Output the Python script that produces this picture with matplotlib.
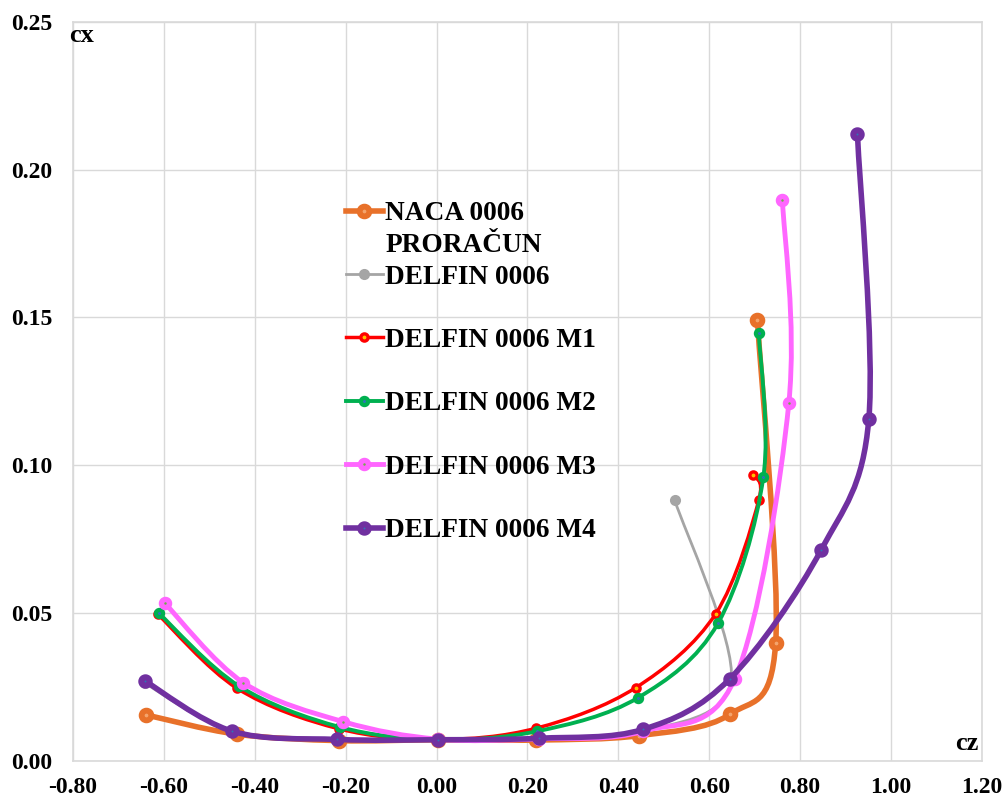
import numpy as np
import matplotlib
matplotlib.use("Agg")
import matplotlib.pyplot as plt
from matplotlib.path import Path
from matplotlib.patches import PathPatch
from matplotlib.lines import Line2D

plt.rcParams['font.family'] = ['Liberation Serif', 'DejaVu Serif']
plt.rcParams['font.weight'] = 'bold'
plt.rcParams['axes.unicode_minus'] = False

# Polar data: lift coefficient cz vs drag coefficient cx
naca_cz = [-0.639, -0.440, -0.215, 0.003, 0.218, 0.446, 0.645, 0.746, 0.706]
naca_cx = [0.0155, 0.0090, 0.0068, 0.0071, 0.0070, 0.0085, 0.0157, 0.0397, 0.1490]

delfin_cz = [-0.642, -0.450, -0.218, 0.003, 0.225, 0.452, 0.648, 0.524]
delfin_cx = [0.0262, 0.0100, 0.0074, 0.0072, 0.0075, 0.0098, 0.0270, 0.0882]

m1_cz = [-0.613, -0.439, -0.215, 0.003, 0.219, 0.438, 0.614, 0.709, 0.696]
m1_cx = [0.0495, 0.0245, 0.0108, 0.0072, 0.0110, 0.0247, 0.0497, 0.0882, 0.0967]

m2_cz = [-0.611, -0.435, -0.213, 0.003, 0.222, 0.443, 0.619, 0.719, 0.709]
m2_cx = [0.0499, 0.0253, 0.0114, 0.0072, 0.0100, 0.0213, 0.0465, 0.0961, 0.1446]

m3_cz = [-0.598, -0.425, -0.205, 0.003, 0.225, 0.455, 0.656, 0.775, 0.761]
m3_cx = [0.0533, 0.0264, 0.0132, 0.0073, 0.0074, 0.0100, 0.0277, 0.1210, 0.1898]

m4_cz = [-0.642, -0.450, -0.218, 0.003, 0.225, 0.454, 0.645, 0.846, 0.951, 0.926]
m4_cx = [0.0270, 0.0100, 0.0072, 0.0071, 0.0076, 0.0106, 0.0277, 0.0713, 0.1156, 0.2120]

x_ticks = [-0.80, -0.60, -0.40, -0.20, 0.00, 0.20, 0.40, 0.60, 0.80, 1.00, 1.20]
y_ticks = [0.00, 0.05, 0.10, 0.15, 0.20, 0.25]


def smooth_path(xs, ys):
    """Cubic Bezier path through the points (Catmull-Rom style tangents)."""
    pts = np.column_stack([xs, ys]).astype(float)
    n = len(pts)
    verts = [pts[0]]
    codes = [Path.MOVETO]
    for i in range(n - 1):
        p0 = pts[i - 1] if i > 0 else pts[i]
        p1 = pts[i]
        p2 = pts[i + 1]
        p3 = pts[i + 2] if i + 2 < n else pts[i + 1]
        c1 = p1 + (p2 - p0) / 6.0
        c2 = p2 - (p3 - p1) / 6.0
        verts += [c1, c2, p2]
        codes += [Path.CURVE4] * 3
    return Path(np.array(verts), codes)


series = [
    # label, x, y, line colour, inner colour, lw, ms, mew
    ('NACA 0006', naca_cz, naca_cx, '#E8712A', '#F4A46C', 4.0, 7.0, 4.2),
    ('DELFIN 0006', delfin_cz, delfin_cx, '#A5A5A5', '#A5A5A5', 2.0, 6.5, 1.5),
    ('DELFIN 0006 M1', m1_cz, m1_cx, '#FF0000', '#FFC000', 2.5, 5.2, 2.4),
    ('DELFIN 0006 M2', m2_cz, m2_cx, '#00B050', '#2E75B6', 2.8, 5.2, 3.0),
    ('DELFIN 0006 M3', m3_cz, m3_cx, '#FF66FF', '#70AD47', 3.5, 5.8, 3.9),
    ('DELFIN 0006 M4', m4_cz, m4_cx, '#7030A0', '#2E75B6', 4.0, 6.0, 4.4),
]

fig = plt.figure(figsize=(10.05, 8), dpi=100)
ax = fig.add_axes([0.0726, 0.0491, 0.9045, 0.9234])

handles = {}
for z, (lab, xs, ys, col, inner, lw, ms, mew) in enumerate(series):
    patch = PathPatch(smooth_path(xs, ys), facecolor='none', edgecolor=col,
                      lw=lw, capstyle='round', joinstyle='round',
                      transform=ax.transData, zorder=3 + z)
    ax.add_patch(patch)
    ax.plot(xs, ys, linestyle='none', marker='o', ms=ms, mew=mew,
            mfc=inner, mec=col, zorder=3 + z)
    handles[lab] = Line2D([], [], color=col, lw=lw, marker='o', ms=ms,
                          mew=mew, mfc=inner, mec=col)

ax.set_xlim(-0.80, 1.20)
ax.set_ylim(0.0, 0.25)
ax.set_xticks(x_ticks)
ax.set_yticks(y_ticks)
ax.set_xticklabels([f'{v:.2f}' for v in x_ticks])
ax.set_yticklabels([f'{v:.2f}' for v in y_ticks])
ax.tick_params(axis='both', length=0, labelsize=17)
ax.tick_params(axis='x', pad=12)
ax.tick_params(axis='y', pad=15)
for t in ax.get_xticklabels() + ax.get_yticklabels():
    t.set_fontweight('bold')
ax.grid(True, color='#D9D9D9', lw=1.0)
ax.set_axisbelow(True)
for s in ax.spines.values():
    s.set_color('#D9D9D9')
    s.set_linewidth(1.2)

fig.text(69 / 1005, 1 - 42 / 800, 'cx', fontsize=19, fontweight='bold',
         ha='left', va='baseline')
fig.text(955 / 1005, 1 - 750 / 800, 'cz', fontsize=19, fontweight='bold',
         ha='left', va='baseline')

blank = Line2D([], [], linestyle='none')
leg_handles = [handles['NACA 0006'], blank, handles['DELFIN 0006'], blank,
               handles['DELFIN 0006 M1'], blank, handles['DELFIN 0006 M2'],
               blank, handles['DELFIN 0006 M3'], blank, handles['DELFIN 0006 M4']]
leg_labels = ['NACA 0006', 'PRORAČUN', 'DELFIN 0006', ' ', 'DELFIN 0006 M1',
              ' ', 'DELFIN 0006 M2', ' ', 'DELFIN 0006 M3', ' ',
              'DELFIN 0006 M4']
leg = fig.legend(leg_handles, leg_labels, loc='upper left',
                 bbox_to_anchor=(346 / 1005, 1 - 201 / 800),
                 frameon=False, borderpad=0, borderaxespad=0,
                 handlelength=1.35, handletextpad=0.08, labelspacing=0.24,
                 prop={'family': ['Liberation Serif'], 'weight': 'bold',
                       'size': 19.7})

fig.savefig('out.png', dpi=100)
